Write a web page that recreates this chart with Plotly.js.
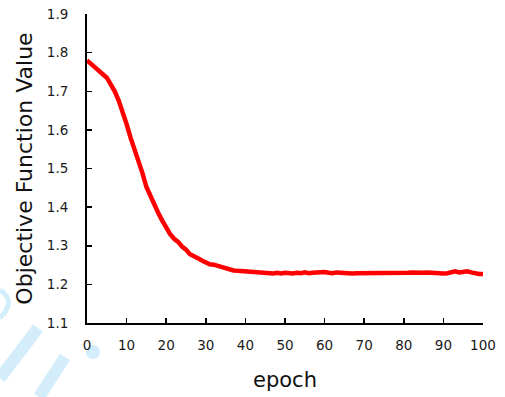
<!DOCTYPE html>
<html>
<head>
<meta charset="utf-8">
<script src="https://cdn.plot.ly/plotly-3.0.1.min.js"></script>
<style>
  html, body { margin: 0; padding: 0; background: #fff; }
  #chart { width: 505px; height: 397px; }
</style>
</head>
<body>
<div id="chart"></div>
<script>
// Training curve: objective value per epoch
const epochs = Array.from({length: 101}, (_, i) => i);
const objective = [
  1.780, 1.770, 1.760, 1.752, 1.744, 1.735, 1.720, 1.700, 1.676, 1.648,
  1.615, 1.580, 1.550, 1.522, 1.488, 1.452, 1.428, 1.405, 1.385, 1.365,
  1.346, 1.330, 1.318, 1.310, 1.298, 1.290, 1.278, 1.274, 1.268, 1.262,
  1.257, 1.252, 1.251, 1.248, 1.244, 1.240, 1.237, 1.236, 1.235, 1.234,
  1.233, 1.232, 1.232, 1.232, 1.231, 1.230, 1.228, 1.228, 1.230, 1.228,
  1.230, 1.228, 1.228, 1.230, 1.229, 1.231, 1.229, 1.230, 1.231, 1.230,
  1.232, 1.230, 1.229, 1.231, 1.230, 1.229, 1.230, 1.228, 1.229, 1.229,
  1.229, 1.230, 1.230, 1.230, 1.230, 1.230, 1.230, 1.229, 1.230, 1.228,
  1.230, 1.230, 1.231, 1.230, 1.230, 1.230, 1.231, 1.230, 1.231, 1.230,
  1.228, 1.229, 1.231, 1.234, 1.231, 1.233, 1.234, 1.231, 1.228, 1.227,
  1.227
];
const xTicks = [0, 10, 20, 30, 40, 50, 60, 70, 80, 90, 100];
const yTicks = [1.1, 1.2, 1.3, 1.4, 1.5, 1.6, 1.7, 1.8, 1.9];

const family = 'DejaVu Sans, Verdana, sans-serif';
const tickFont = {family: family, size: 13.5, color: '#1a1a1a'};
const faint = '#d3edfb';

const trace = {
  x: epochs,
  y: objective,
  type: 'scatter',
  mode: 'lines',
  line: {color: '#ff0000', width: 4.5},
  hoverinfo: 'skip'
};

const layout = {
  width: 505,
  height: 397,
  margin: {l: 87, r: 22, t: 14, b: 74},
  paper_bgcolor: '#ffffff',
  plot_bgcolor: '#ffffff',
  showlegend: false,
  xaxis: {
    range: [0, 100],
    tickmode: 'array',
    tickvals: xTicks,
    ticktext: xTicks.map(String),
    ticks: 'inside',
    ticklen: 5,
    tickwidth: 1.5,
    tickcolor: '#000',
    showline: true,
    linecolor: '#000',
    linewidth: 2,
    showgrid: false,
    zeroline: false,
    tickfont: tickFont,
    ticklabelstandoff: 9,
    title: {text: 'epoch', font: {family: family, size: 21, color: '#111'}, standoff: 20}
  },
  yaxis: {
    range: [1.1, 1.9],
    tickmode: 'array',
    tickvals: yTicks,
    ticktext: yTicks.map(v => v.toFixed(1)),
    ticks: 'inside',
    ticklen: 5,
    tickwidth: 1.5,
    tickcolor: '#000',
    showline: true,
    linecolor: '#000',
    linewidth: 2,
    showgrid: false,
    zeroline: false,
    tickfont: tickFont,
    ticklabelstandoff: 14,
    title: {text: 'Objective Function Value', font: {family: family, size: 22, color: '#111'}, standoff: 8}
  },
  shapes: [
    // faint logo strokes in the lower-left corner
    {type: 'path', xref: 'paper', yref: 'paper', layer: 'below',
     path: 'M -0.2197,0.1068 Q -0.1768,0.0712 -0.2197,0.0162',
     line: {color: faint, width: 5}},
    {type: 'line', xref: 'paper', yref: 'paper', layer: 'below',
     x0: -0.1237, y0: -0.0162, x1: -0.2197, y1: -0.1780,
     line: {color: faint, width: 12}},
    {type: 'line', xref: 'paper', yref: 'paper', layer: 'below',
     x0: -0.0556, y0: -0.1100, x1: -0.1212, y1: -0.2395,
     line: {color: faint, width: 12}},
    {type: 'circle', xref: 'paper', yref: 'paper', layer: 'below',
     x0: -0.0025, y0: -0.1165, x1: 0.0328, y1: -0.0712,
     fillcolor: faint, line: {width: 0}}
  ]
};

Plotly.newPlot('chart', [trace], layout, {staticPlot: true, displayModeBar: false});
</script>
</body>
</html>
